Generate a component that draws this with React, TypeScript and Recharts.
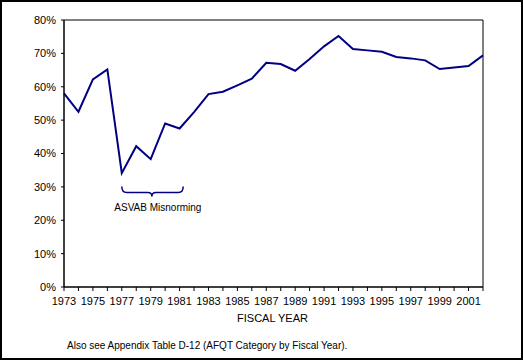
import React from 'react'
import {
  LineChart,
  Line,
  XAxis,
  YAxis,
  ReferenceArea
} from 'recharts'

const YEARS = [
  1973, 1974, 1975, 1976, 1977, 1978, 1979, 1980, 1981, 1982,
  1983, 1984, 1985, 1986, 1987, 1988, 1989, 1990, 1991, 1992,
  1993, 1994, 1995, 1996, 1997, 1998, 1999, 2000, 2001, 2002
]

const HIGH_QUALITY = [
  58.0, 52.5, 62.2, 65.2, 34.1, 42.2, 38.3, 49.0, 47.5, 52.4,
  57.8, 58.5, 60.4, 62.4, 67.2, 66.8, 64.8, 68.3, 72.1, 75.2,
  71.3, 70.9, 70.5, 68.9, 68.5, 67.9, 65.3, 65.8, 66.2, 69.4
]

const Y_TICKS = [0, 10, 20, 30, 40, 50, 60, 70, 80]

// the misnorming brace spans these fiscal years
const BRACE_START = 1977
const BRACE_END = 1981.25

const NAVY = '#000080'
const FONT = 'Arial, "Liberation Sans", sans-serif'

const data = YEARS.map((year, i) => ({ year, value: HIGH_QUALITY[i] }))

const YearTick = (props: any) => {
  const { x, y, payload } = props
  if (payload.value % 2 === 0) return null
  return (
    <text x={x} y={y} dy="0.71em" textAnchor="middle" fontSize={11} fontFamily={FONT} fill="#000">
      {payload.value}
    </text>
  )
}

const Brace = (props: any) => {
  const { x, y, width, height } = props
  const x0 = x
  const x1 = x + width
  const top = y
  const bot = y + height
  const mid = x + width * 0.49
  const d = [
    `M${x0},${top}`,
    `Q${x0},${bot} ${x0 + 5},${bot}`,
    `L${mid - 4},${bot}`,
    `Q${mid},${bot} ${mid},${bot + 4}`,
    `Q${mid},${bot} ${mid + 4},${bot}`,
    `L${x1 - 5},${bot}`,
    `Q${x1},${bot} ${x1},${top}`
  ].join(' ')
  return (
    <g>
      <path d={d} fill="none" stroke={NAVY} strokeWidth={1.5} />
      <text x={mid + 6} y={bot + 18} textAnchor="middle" fontSize={10} fontFamily={FONT} fill="#000">
        ASVAB Misnorming
      </text>
    </g>
  )
}

const App: React.FC = () => {
  return (
    <div style={{ position: 'absolute', left: 0, top: 0, width: 523, height: 360, background: '#fff' }}>
      <LineChart
        width={523}
        height={360}
        data={data}
        margin={{ top: 20, right: 40, bottom: 43, left: 4 }}
      >
        <XAxis
          dataKey="year"
          type="number"
          domain={[1973, 2002]}
          ticks={YEARS}
          interval={0}
          tick={<YearTick />}
          tickSize={4}
          tickMargin={6}
          height={30}
          stroke="#000"
        />
        <YAxis
          type="number"
          domain={[0, 80]}
          ticks={Y_TICKS}
          tickFormatter={(v: number) => `${v}%`}
          tick={{ fontSize: 11, fontFamily: FONT, fill: '#000' }}
          tickSize={3}
          tickMargin={5}
          width={60}
          stroke="#000"
        />
        <ReferenceArea x1={1973} x2={2002} y1={0} y2={80} fill="none" stroke="#000" strokeWidth={1} />
        <ReferenceArea
          x1={BRACE_START}
          x2={BRACE_END}
          y1={28.3}
          y2={30.1}
          shape={<Brace />}
        />
        <Line
          type="linear"
          dataKey="value"
          stroke={NAVY}
          strokeWidth={2}
          dot={false}
          isAnimationActive={false}
        />
      </LineChart>
      <div style={{ position: 'absolute', left: 0, width: 545, top: 312, textAlign: 'center', fontFamily: FONT, fontSize: 11 }}>
        FISCAL YEAR
      </div>
      <div style={{ position: 'absolute', left: 67, top: 340, fontFamily: FONT, fontSize: 10 }}>
        Also see Appendix Table D-12 (AFQT Category by Fiscal Year).
      </div>
      <div style={{ position: 'absolute', left: 0, top: 0, width: 523, height: 360, boxSizing: 'border-box', border: '2px solid #000', pointerEvents: 'none' }} />
    </div>
  )
}

export default App
